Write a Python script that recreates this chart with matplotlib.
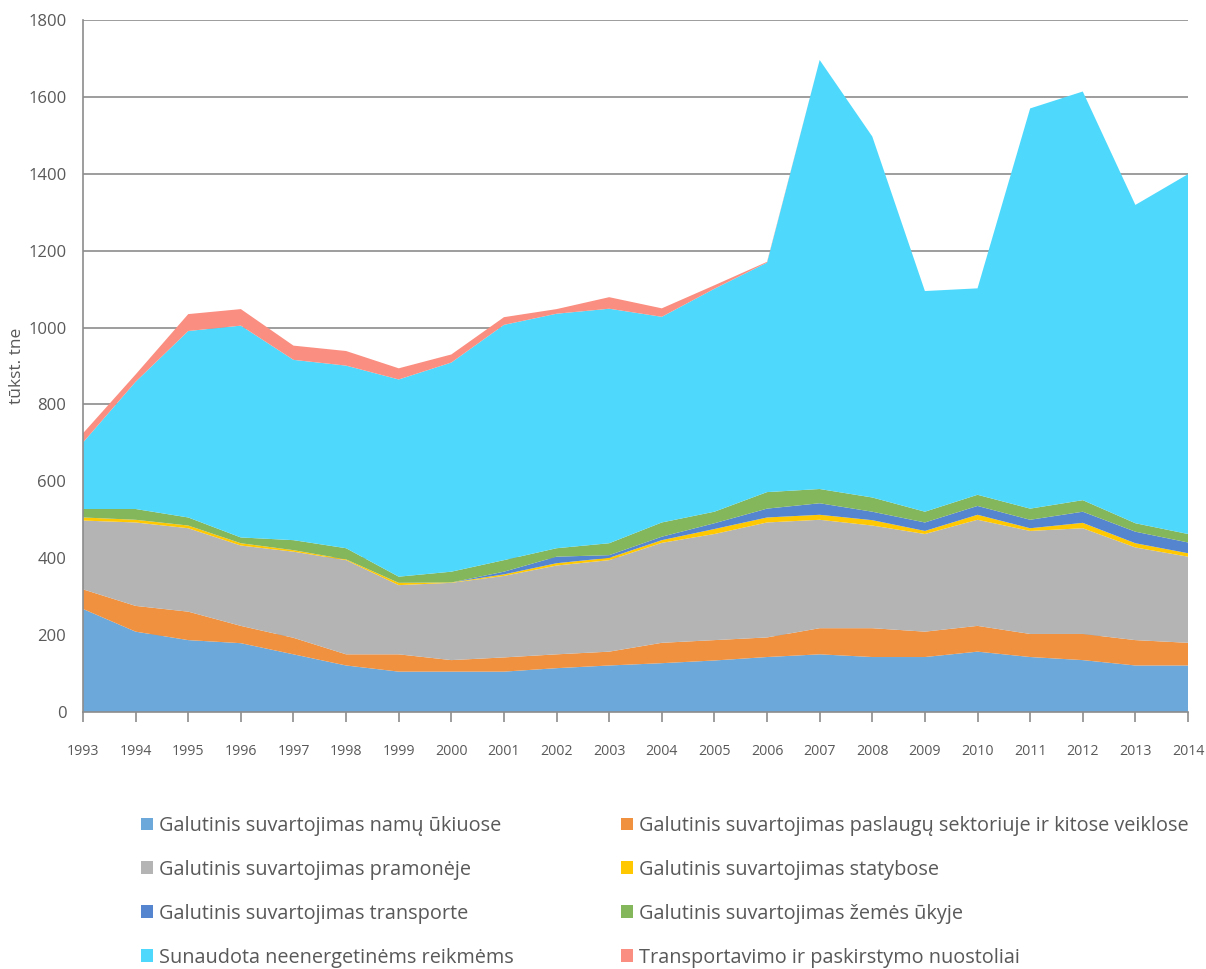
import matplotlib
matplotlib.use("Agg")
import matplotlib.pyplot as plt
from matplotlib.patches import Patch

years = list(range(1993, 2015))
households = [268, 209, 187, 179, 150, 121, 105, 105, 105, 114, 121, 127, 134, 143, 150, 143, 143, 157, 143, 135, 121, 121]
services = [51, 67, 74, 45, 43, 29, 45, 30, 37, 36, 36, 53, 53, 51, 68, 75, 66, 67, 60, 68, 66, 59]
industry = [179, 217, 217, 209, 224, 245, 180, 201, 212, 231, 238, 260, 276, 299, 282, 267, 254, 276, 268, 275, 241, 224]
construction = [8, 7, 7, 6, 4, 2, 6, 1, 4, 6, 6, 7, 13, 13, 13, 14, 8, 13, 7, 14, 11, 9]
transport = [0, 0, 0, 0, 0, 0, 0, 0, 7, 17, 7, 9, 15, 23, 30, 22, 22, 23, 22, 29, 30, 28]
agriculture = [22, 28, 21, 15, 26, 29, 16, 28, 30, 22, 31, 37, 30, 43, 37, 37, 28, 29, 29, 30, 22, 22]
non_energy = [173, 331, 485, 551, 469, 475, 513, 544, 612, 610, 610, 535, 580, 597, 1116, 939, 574, 537, 1041, 1063, 828, 936]
losses = [24, 19, 44, 43, 37, 38, 29, 21, 20, 12, 30, 22, 9, 2, 0, 0, 0, 0, 0, 0, 0, 0]

labels = [
    "Galutinis suvartojimas namų ūkiuose",
    "Galutinis suvartojimas paslaugų sektoriuje ir kitose veiklose",
    "Galutinis suvartojimas pramonėje",
    "Galutinis suvartojimas statybose",
    "Galutinis suvartojimas transporte",
    "Galutinis suvartojimas žemės ūkyje",
    "Sunaudota neenergetinėms reikmėms",
    "Transportavimo ir paskirstymo nuostoliai",
]
colors = ["#6CA8DA", "#F09140", "#B4B4B4", "#FFC800", "#5585CE", "#84B65B", "#4ED9FC", "#FA8E80"]
ylabel = "tūkst. tne"

plt.rcParams['font.family'] = ['Open Sans', 'DejaVu Sans']
text_color = "#595959"
grid_color = "#8C8C8C"

fig = plt.figure(figsize=(12.06, 9.69), dpi=100)
ax = fig.add_axes([83/1206, 1-712/969, (1188-83)/1206, (712-20)/969])

series = [households, services, industry, construction, transport, agriculture, non_energy, losses]
ax.stackplot(years, *series, colors=colors, linewidth=0, zorder=3)

ax.set_xlim(1993, 2014)
ax.set_ylim(0, 1800)
ax.set_yticks(range(0, 1801, 200))
ax.set_xticks(years)
ax.set_xticklabels([str(y) for y in years])
ax.yaxis.grid(True, color=grid_color, linewidth=1.2, zorder=0)
ax.set_axisbelow(True)
for s in ["top", "right"]:
    ax.spines[s].set_visible(False)
for s in ["left", "bottom"]:
    ax.spines[s].set_color(grid_color)
    ax.spines[s].set_linewidth(1.2)
    ax.spines[s].set_zorder(5)
ax.tick_params(axis="y", length=0, pad=12, labelsize=12, labelcolor=text_color)
ax.tick_params(axis="x", length=7, width=1.2, color=grid_color, pad=16, labelsize=10.2, labelcolor=text_color)
ax.set_ylabel(ylabel, fontsize=12.5, color=text_color)
ax.yaxis.set_label_coords(-0.0525, 0.5)

handles = [Patch(facecolor=c, edgecolor="none") for c in colors]
left_idx = [0, 2, 4, 6]
right_idx = [1, 3, 5, 7]
common = dict(frameon=False, fontsize=14.3, handlelength=0.62, handleheight=0.62,
              handletextpad=0.3, labelspacing=1.2, labelcolor=text_color, borderaxespad=0, borderpad=0)
leg1 = fig.legend([handles[i] for i in left_idx], [labels[i] for i in left_idx],
                  loc="upper left", bbox_to_anchor=(141/1206, 1-816/969), **common)
leg2 = fig.legend([handles[i] for i in right_idx], [labels[i] for i in right_idx],
                  loc="upper left", bbox_to_anchor=(621/1206, 1-816/969), **common)

fig.savefig("out.png", dpi=100)
